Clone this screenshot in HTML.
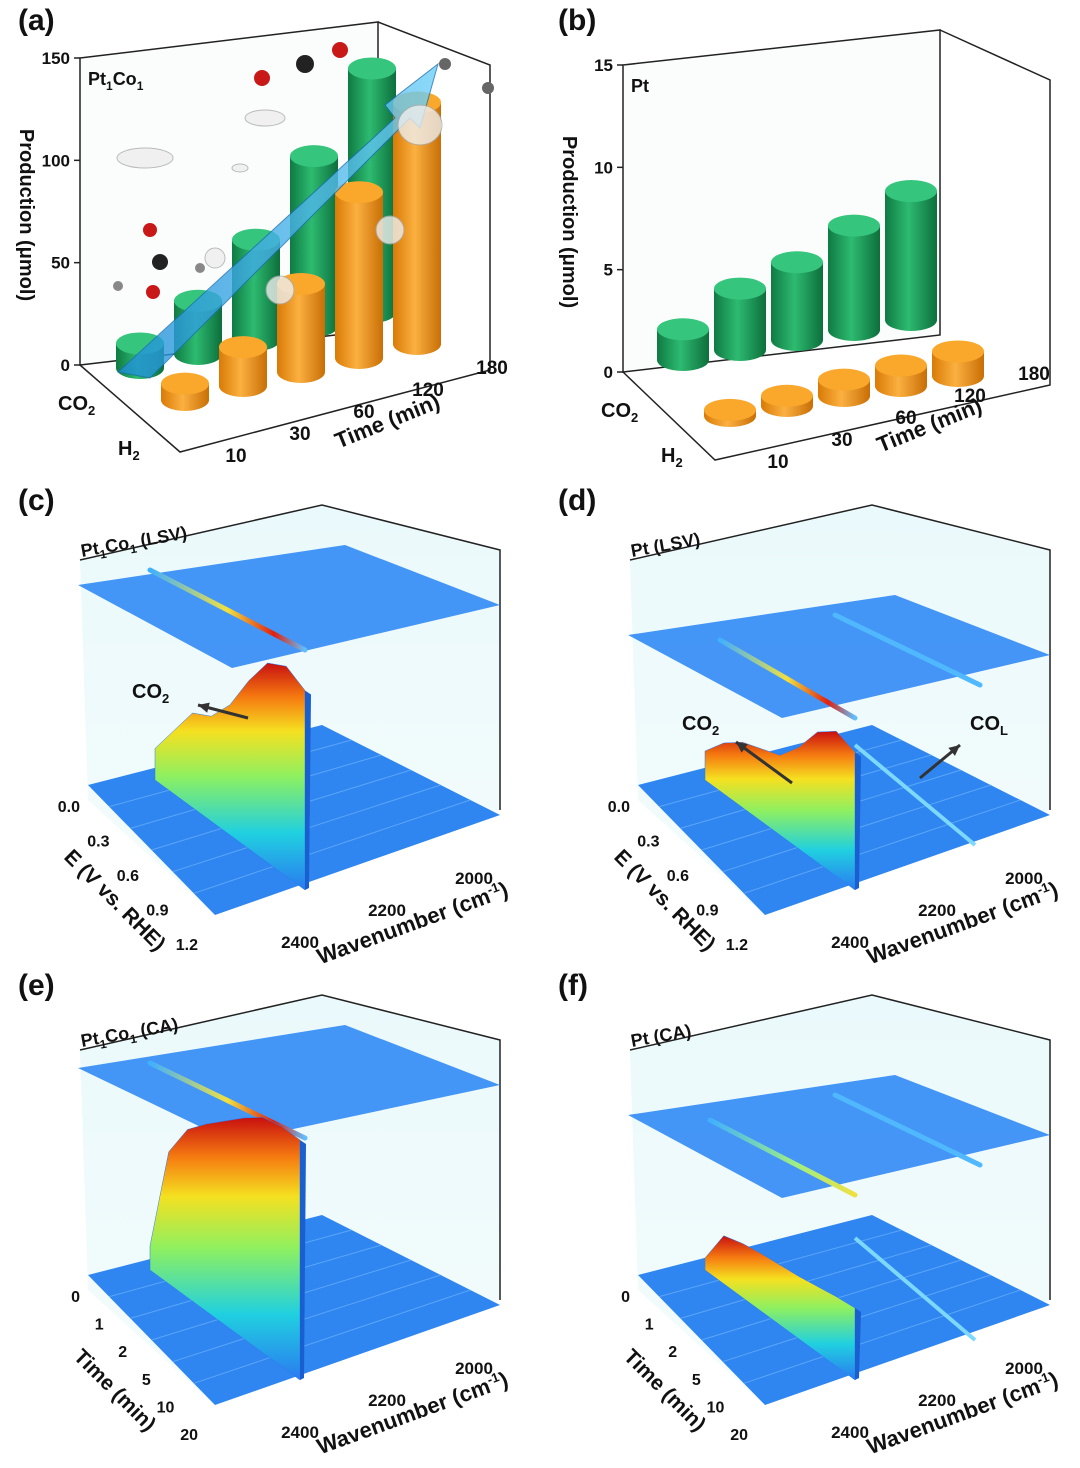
<!DOCTYPE html>
<html><head><meta charset="utf-8">
<style>
html,body{margin:0;padding:0;background:#fff;}
svg{display:block;font-family:"Liberation Sans",Arial,sans-serif;}
.t{font-weight:bold;fill:#111;}
</style></head>
<body>
<svg id="fig" width="1080" height="1468" viewBox="0 0 1080 1468">
<defs>
<linearGradient id="gG" x1="0" x2="1"><stop offset="0" stop-color="#0f7a43"/><stop offset="0.45" stop-color="#2dbb70"/><stop offset="1" stop-color="#0d6e3c"/></linearGradient>
<linearGradient id="gO" x1="0" x2="1"><stop offset="0" stop-color="#d97a06"/><stop offset="0.45" stop-color="#fbb040"/><stop offset="1" stop-color="#c86e05"/></linearGradient>
<linearGradient id="heat" x1="0" y1="1" x2="0" y2="0"><stop offset="0" stop-color="#2a7bf0"/><stop offset="0.25" stop-color="#20d0e0"/><stop offset="0.5" stop-color="#8ef060"/><stop offset="0.7" stop-color="#f5e020"/><stop offset="0.85" stop-color="#f57a10"/><stop offset="1" stop-color="#c81010"/></linearGradient>
<linearGradient id="stripe" x1="0" x2="1"><stop offset="0" stop-color="#40b0ff"/><stop offset="0.5" stop-color="#f0e040"/><stop offset="0.8" stop-color="#e02010"/><stop offset="1" stop-color="#60c0ff"/></linearGradient>
<linearGradient id="stripe2" x1="0" x2="1"><stop offset="0" stop-color="#40b0ff"/><stop offset="0.6" stop-color="#a0f080"/><stop offset="1" stop-color="#f0e040"/></linearGradient>
<linearGradient id="boxbg" x1="0" y1="0" x2="0" y2="1"><stop offset="0" stop-color="#eaf9fb"/><stop offset="1" stop-color="#f4fcfd"/></linearGradient>
<linearGradient id="arrowG" x1="0" x2="1"><stop offset="0" stop-color="#1e8fd8"/><stop offset="1" stop-color="#6fd0f8"/></linearGradient>
</defs>
<g id="root"></g>
</svg>
<script>
// ===== Data: bar charts (a) and (b) =====
const timeLabels = ["10","30","60","120","180"];
const aCO2 = [12, 26, 49, 83, 119];
const aH2  = [8, 19, 43, 81, 118];
const bCO2 = [1.5, 3.0, 3.8, 5.1, 6.3];
const bH2  = [0.3, 0.5, 0.8, 1.0, 1.2];
const aTicks = [0, 50, 100, 150];
const bTicks = [0, 5, 10, 15];
// ===== Data: spectral ridges (relative intensity along E / time axis, front->back) =====
const cRidge = [0.95, 1.0, 0.95, 0.8, 0.62, 0.5, 0.45, 0.3, 0.15];
const dRidge = [0.95, 1.0, 0.9, 0.7, 0.55, 0.5, 0.45, 0.35, 0.2];
const eRidge = [1.0, 1.0, 0.98, 0.92, 0.85, 0.78, 0.7, 0.55, 0.1];
const fRidge = [0.6, 0.58, 0.55, 0.52, 0.5, 0.48, 0.45, 0.4, 0.1];
const eTicks = ["0.0","0.3","0.6","0.9","1.2"];
const tTicks = ["0","1","2","5","10","20"];
const wnTicks = ["2400","2200","2000"];

const NS="http://www.w3.org/2000/svg";
const root=document.getElementById('root');
function mk(tag,attrs,parent){const e=document.createElementNS(NS,tag);for(const k in attrs)e.setAttribute(k,attrs[k]);(parent||root).appendChild(e);return e;}
function txt(x,y,s,size,parent,extra){const e=mk('text',Object.assign({x:x,y:y,'font-size':size,class:'t'},extra||{}),parent);e.innerHTML=s;return e;}

// ---------- Bar panel ----------
function barPanel(o){
  const g=mk('g',{});
  
  
  const f=o.frame;
  mk('polygon',{points:f.back,fill:'#fbfdfd',stroke:'#222','stroke-width':1.5},g);
  mk('polyline',{points:f.lines,fill:'none',stroke:'#222','stroke-width':1.5},g);
  const yScale=v=>o.y0-(v/o.max)*o.hpx;
  o.ticks.forEach(v=>{
    const y=yScale(v);
    const tk=mk('line',{x1:o.ax,y1:y,x2:o.ax-6,y2:y,stroke:'#222','stroke-width':1.5},g);
    
    
    const lb=txt(o.ax-10,y+6,String(v),17,g,{'text-anchor':'end'});
    
    
  });
  const yt=txt(0,0,'Production (μmol)',20,g,{transform:`translate(${o.ax-60},${o.y0-150}) rotate(90)`,'text-anchor':'middle'});
  
  
  const unit=o.hpx/o.max;
  const draws=[];
  [o.h2,o.co2].forEach((arr,ri)=>{
    const row=ri===0?1:0;
    arr.forEach((v,i)=>draws.push({v,i,row,col:row===1?'O':'G'}));
  });
  draws.sort((a,b)=>a.row-b.row||a.i-b.i);
  draws.forEach(d=>{
    const bx=o.bx+d.i*o.dx+d.row*o.rx, by=o.by+d.i*o.dy+d.row*o.ry;
    const h=d.v*unit, w=o.w/2, ry=o.ery;
    const c=mk('g',{},g);
    
    
    const fill=d.col==='G'?'url(#gG)':'url(#gO)';
    const top=d.col==='G'?'#35c57c':'#f9a82c';
    mk('path',{d:`M${bx-w},${by-h} L${bx-w},${by} A${w},${ry} 0 0 0 ${bx+w},${by} L${bx+w},${by-h} Z`,fill:fill},c);
    mk('ellipse',{cx:bx,cy:by-h,rx:w,ry:ry,fill:top},c);
  });
  timeLabels.forEach((t,i)=>{
    const lb=txt(o.tx+i*o.tdx,o.ty+i*o.tdy,t,19,g,{'text-anchor':'middle'});
    
    
  });
  const xt=txt(o.xtx,o.xty,'Time (min)',22,g,{transform:`rotate(-22 ${o.xtx} ${o.xty})`,'text-anchor':'middle'});
  
  
  const l1=txt(o.ax-22,o.y0+45,'CO<tspan font-size="13" dy="5">2</tspan>',20,g);
  
  
  const l2=txt(o.ax+38,o.y0+90,'H<tspan font-size="13" dy="5">2</tspan>',20,g);
  
  
  const s=txt(o.ax+8,o.y0-280,o.sample,18,g);
  
  
  return g;
}

const deco=mk('g',{});



barPanel({name:'panel-a-chart',frame:{back:'80,58 378,22 378,330 80,365',lines:'378,22 490,65 490,370 180,452 80,365 M378,330 490,370'},
  ax:80,y0:365,max:150,hpx:307,ticks:aTicks,co2:aCO2,h2:aH2,bx:140,by:368,dx:58,dy:-14,rx:45,ry:32,w:48,ery:11,
  tx:236,ty:462,tdx:64,tdy:-22,xtx:390,xty:428,sample:'Pt<tspan font-size="12" dy="5">1</tspan><tspan dy="-5">Co</tspan><tspan font-size="12" dy="5">1</tspan>'});
const arr=mk('polygon',{points:'118,372 395,118 385,105 438,64 420,128 410,118 150,378',fill:'url(#arrowG)',opacity:0.8,stroke:'#1a6fb0','stroke-width':1});


[[262,78,'#c81818',8],[305,64,'#222',9],[340,50,'#c81818',8],[445,64,'#666',6],[488,88,'#666',6],[150,230,'#c81818',7],[160,262,'#222',8],[153,292,'#c81818',7],[118,286,'#888',5],[200,268,'#888',5]].forEach(m=>{
  const c=mk('circle',{cx:m[0],cy:m[1],r:m[3],fill:m[2]});
  
  
});
[[145,158,28,10],[265,118,20,8],[240,168,8,4],[420,125,22,20],[390,230,14,14],[280,290,14,14],[215,258,10,10]].forEach(b=>{
  const c=mk('ellipse',{cx:b[0],cy:b[1],rx:b[2],ry:b[3],fill:'#eee',stroke:'#aaa','stroke-width':1,opacity:0.8});
  
  
});

barPanel({name:'panel-b-chart',frame:{back:'623,65 940,30 940,335 623,372',lines:'940,30 1050,80 1050,385 715,460 623,372 M940,335 1050,385'},
  ax:623,y0:372,max:15,hpx:307,ticks:bTicks,co2:bCO2,h2:bH2,bx:683,by:360,dx:57,dy:-10,rx:47,ry:56,w:52,ery:11,
  tx:778,ty:468,tdx:64,tdy:-22,xtx:932,xty:432,sample:'Pt'});

// ---------- Spectral panels ----------
function specPanel(o){
  const g=mk('g',{transform:`translate(${o.ox},${o.oy})`});
  
  
  mk('polygon',{points:'80,560 322,505 500,550 500,810 215,915 88,800',fill:'url(#boxbg)'},g);
  mk('polyline',{points:'80,560 322,505 500,550 500,810 M322,505 322,745 M80,560 80,805 215,940 500,830',fill:'none',stroke:'#222','stroke-width':1.5},g);
  const up=mk('polygon',{points:o.up,fill:'#3a8ff5',opacity:0.95},g);
  
  
  o.stripes.forEach(s=>{
    const st=mk('line',{x1:s[0],y1:s[1],x2:s[2],y2:s[3],stroke:s[4],'stroke-width':5,'stroke-linecap':'round'},g);
    
    
  });
  const lp=mk('polygon',{points:'88,785 322,725 500,815 215,915',fill:'#2f86f0'},g);
  
  
  for(let k=1;k<6;k++){
    const t=k/6;
    mk('line',{x1:88+(215-88)*t,y1:785+(915-785)*t,x2:322+(500-322)*t,y2:725+(815-725)*t,stroke:'#5aa6f8','stroke-width':1},g);
  }
  if(o.co){
    const cr=mk('line',{x1:o.co[0],y1:o.co[1],x2:o.co[2],y2:o.co[3],stroke:'#7dd8ff','stroke-width':4},g);
    
    
  }
  const F=[o.rx,890], B=[o.rx-150,780];
  const n=o.ridge.length;
  let top=[],base=[];
  o.ridge.forEach((v,i)=>{
    const t=i/(n-1);
    const x=F[0]+(B[0]-F[0])*t, y=F[1]+(B[1]-F[1])*t;
    base.push([x,y]); top.push([x,y-v*o.hmax]);
  });
  const pts=top.map(p=>p.join(',')).concat(base.slice().reverse().map(p=>p.join(','))).join(' ');
  const rg=mk('polygon',{points:pts,fill:'url(#heat)',stroke:'#2a7bf0','stroke-width':0.5},g);
  
  
  mk('polygon',{points:`${top[0][0]},${top[0][1]} ${top[0][0]+6},${top[0][1]+4} ${base[0][0]+4},${base[0][1]-2} ${base[0][0]},${base[0][1]}`,fill:'#1a5fd0'},g);
  const s=txt(82,557,o.sample,18,g,{transform:'rotate(-10 82 557)'});
  
  
  const ticks=o.yt;
  ticks.forEach((t,i)=>{
    const k=i/(ticks.length-1);
    const lb=txt(80+(198-80)*k,812+(950-812)*k,t,16,g,{'text-anchor':'end'});
    
    
  });
  const yt=txt(0,0,o.ytitle,21,g,{transform:'translate(110,905) rotate(45)','text-anchor':'middle'});
  
  
  wnTicks.forEach((t,i)=>{
    const lb=txt(300+i*87,948-i*32,t,17,g,{'text-anchor':'middle'});
    
    
  });
  const xt=txt(415,930,'Wavenumber (cm<tspan font-size="13" dy="-8">-1</tspan><tspan dy="8">)</tspan>',22,g,{transform:'rotate(-20 415 930)','text-anchor':'middle'});
  
  
  (o.arrows||[]).forEach(a=>{
    const l=mk('line',{x1:a[0],y1:a[1],x2:a[2],y2:a[3],stroke:'#333','stroke-width':3},g);
    
    
    const ang=Math.atan2(a[3]-a[1],a[2]-a[0]);
    const h=12;
    mk('polygon',{points:`${a[2]},${a[3]} ${a[2]-h*Math.cos(ang-0.45)},${a[3]-h*Math.sin(ang-0.45)} ${a[2]-h*Math.cos(ang+0.45)},${a[3]-h*Math.sin(ang+0.45)}`,fill:'#333'},g);
    const lb=txt(a[4],a[5],a[6],20,g);
    
    
  });
}
const PtCo='Pt<tspan font-size="12" dy="5">1</tspan><tspan dy="-5">Co</tspan><tspan font-size="12" dy="5">1</tspan><tspan dy="-5">';
specPanel({name:'panel-c-chart',ox:0,oy:0,up:'78,585 345,545 500,605 232,668',stripes:[[150,570,305,650,'url(#stripe)']],
  ridge:cRidge,rx:305,hmax:210,yt:eTicks,ytitle:'E (V vs. RHE)',sample:PtCo+' (LSV)</tspan>',
  arrows:[[248,718,198,705,132,698,'CO<tspan font-size="13" dy="5">2</tspan>']]});
specPanel({name:'panel-d-chart',ox:550,oy:0,up:'78,635 345,595 500,655 232,718',stripes:[[170,640,305,718,'url(#stripe)'],[285,615,430,685,'#50b8ff']],
  ridge:dRidge,rx:305,hmax:145,co:[305,745,425,845],yt:eTicks,ytitle:'E (V vs. RHE)',sample:'Pt (LSV)',
  arrows:[[242,783,186,742,132,730,'CO<tspan font-size="13" dy="5">2</tspan>'],[370,778,410,745,420,730,'CO<tspan font-size="13" dy="5">L</tspan>']]});
specPanel({name:'panel-e-chart',ox:0,oy:490,up:'78,578 345,535 500,595 232,652',stripes:[[150,573,305,648,'url(#stripe)']],
  ridge:eRidge,rx:300,hmax:240,yt:tTicks,ytitle:'Time (min)',sample:PtCo+' (CA)</tspan>'});
specPanel({name:'panel-f-chart',ox:550,oy:490,up:'78,625 345,585 500,645 232,708',stripes:[[160,630,305,705,'url(#stripe2)'],[285,605,430,675,'#50b8ff']],
  ridge:fRidge,rx:305,hmax:120,co:[305,748,425,850],yt:tTicks,ytitle:'Time (min)',sample:'Pt (CA)'});

[['(a)',18,30],['(b)',558,30],['(c)',18,510],['(d)',558,510],['(e)',18,995],['(f)',558,995]].forEach(p=>{
  const l=txt(p[1],p[2],p[0],30,null);
  
  
});
</script>
</body></html>
